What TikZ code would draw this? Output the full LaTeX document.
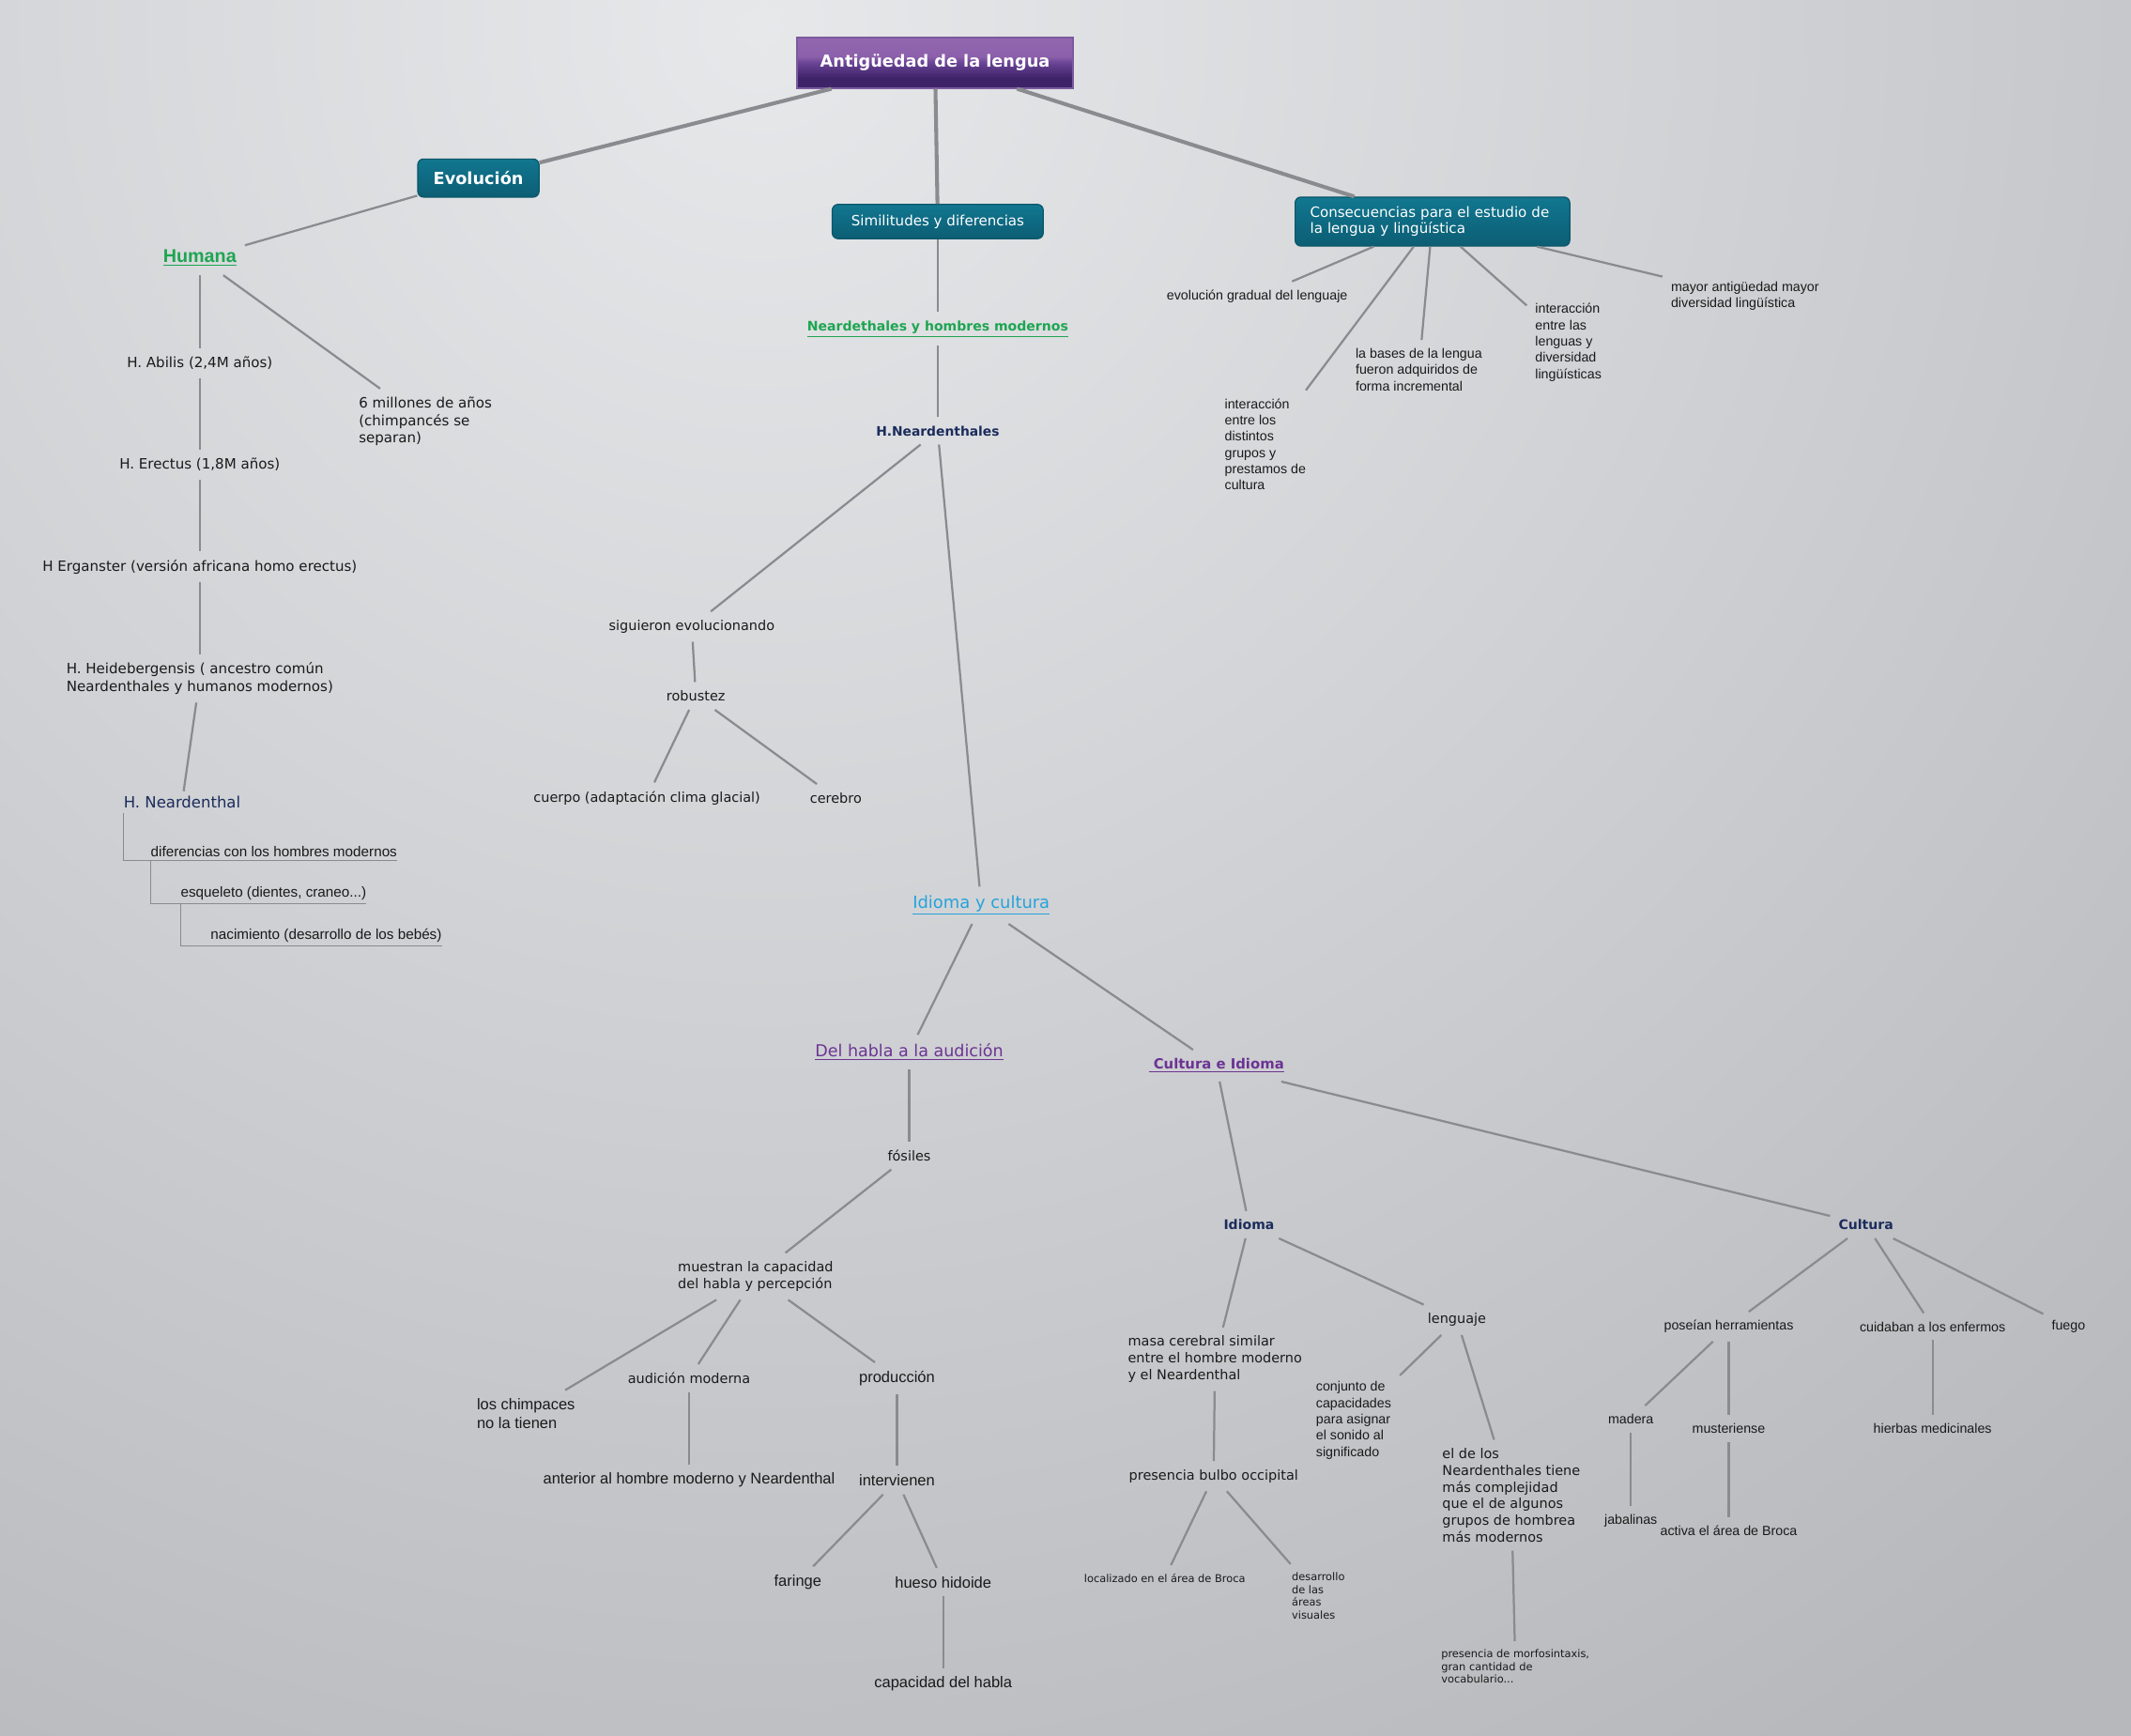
\documentclass[tikz,border=0pt]{standalone}
\usepackage{fontspec}
\setmainfont{Liberation Sans}
\newfontfamily\verdfont{DejaVu Sans}
\usetikzlibrary{positioning,calc}
\definecolor{BgLight}{HTML}{E7E8EA}
\definecolor{BgDark}{HTML}{B7B8BC}
\definecolor{LinkGray}{HTML}{8A8B8F}
\definecolor{TextInk}{HTML}{1A1A1A}
\definecolor{NavyText}{HTML}{1B2C5C}
\definecolor{GreenLink}{HTML}{1EA552}
\definecolor{BlueLink}{HTML}{25A3DA}
\definecolor{PurpleLink}{HTML}{6B3494}
\definecolor{RootEdge}{HTML}{7B5A9E}
\definecolor{RootRim}{HTML}{A080C0}
\definecolor{RootDark}{HTML}{3F2368}
\definecolor{RootMid}{HTML}{6A4496}
\definecolor{RootLight}{HTML}{8C60AA}
\definecolor{RootTop}{HTML}{9C72B8}
\definecolor{TealEdge}{HTML}{0B5669}
\definecolor{TealRim}{HTML}{1F8299}
\definecolor{TealDark}{HTML}{0B566A}
\definecolor{TealMid}{HTML}{0E6A82}
\definecolor{TealTop}{HTML}{16859E}
\pgfdeclareverticalshading{rootshade}{100bp}{color(0bp)=(RootRim); color(7bp)=(RootDark); color(35bp)=(RootDark); color(50bp)=(RootMid); color(56bp)=(RootLight); color(100bp)=(RootTop)}
\pgfdeclareverticalshading{tealshade}{100bp}{color(0bp)=(TealRim); color(8bp)=(TealDark); color(50bp)=(TealMid); color(100bp)=(TealTop)}

\begin{document}
\begin{tikzpicture}[
  x=0.025cm, y=-0.025cm,
  rootbox/.style={rectangle, shading=rootshade, draw=RootEdge, line width=1pt, text=white,
    font=\verdfont\bfseries\fontsize{8.7}{10}\selectfont, minimum width=5.08cm, minimum height=0.93cm},
  tealbox/.style={rectangle, rounded corners=3pt, shading=tealshade, draw=TealEdge, line width=0.6pt, text=white},
  body/.style={font=\verdfont\fontsize{7.1}{8.7}\selectfont, text=TextInk, align=left, inner sep=2.5pt, outer sep=2pt},
  bodyL/.style={body, font=\verdfont\fontsize{7.4}{9}\selectfont},
  arial/.style={body, font=\fontsize{7}{8.5}\selectfont},
  arialL/.style={body, font=\fontsize{8.1}{9.6}\selectfont},
  fine/.style={body, font=\verdfont\fontsize{5.6}{6.6}\selectfont},
  navy/.style={body, font=\verdfont\bfseries\fontsize{6.9}{8}\selectfont, text=NavyText},
  treeitem/.style={font=\fontsize{7.5}{9}\selectfont, text=TextInk, anchor=south west, inner xsep=0pt, inner ysep=2pt, outer sep=0pt},
  link/.style={draw=LinkGray, line width=1.1pt},
  trunk/.style={draw=LinkGray, line width=2pt},
  treeline/.style={draw=LinkGray, line width=0.6pt}
]
\useasboundingbox (0,0) rectangle (1568,1277);
\fill[BgDark] (0,0) rectangle (1568,1277);
\begin{scope}
\clip (0,0) rectangle (1568,1277);
\shade[inner color=BgLight, outer color=BgDark] (560,20) circle (37.5cm);
\end{scope}

\node[rootbox] (root) at (688,46) {Antigüedad de la lengua};
\node[tealbox, minimum width=2.23cm, minimum height=0.7cm, font=\verdfont\bfseries\fontsize{8.7}{10}\selectfont] (evol) at (352,131) {Evolución};
\node[tealbox, minimum width=3.88cm, minimum height=0.63cm, font=\verdfont\fontsize{7.4}{9}\selectfont] (simil) at (690,163) {Similitudes y diferencias};
\node[tealbox, minimum width=5.05cm, minimum height=0.9cm, text width=4.5cm, inner xsep=0.275cm, align=left, font=\verdfont\fontsize{7.4}{8.6}\selectfont] (conseq) at (1054,163) {Consecuencias para el estudio de\\la lengua y lingüística};

\node[body, font=\bfseries\fontsize{9.7}{11}\selectfont, text=GreenLink] (humana) at (147,190) {\underline{Humana}};
\node[bodyL] (abilis) at (147,267) {H. Abilis (2,4M años)};
\node[bodyL] (millones) at (313,310) {6 millones de años\\(chimpancés se\\separan)};
\node[bodyL] (erectus) at (147,342) {H. Erectus (1,8M años)};
\node[bodyL] (erganster) at (147,417) {H Erganster (versión africana homo erectus)};
\node[bodyL] (heide) at (147,499) {H. Heidebergensis ( ancestro común\\Neardenthales y humanos modernos)};
\node[body, font=\verdfont\fontsize{8.1}{9.5}\selectfont, text=NavyText, inner xsep=0pt, outer sep=0pt] (hnd) at (134,590) {H. Neardenthal};
\node[treeitem] (dif) at (111,633) {diferencias con los hombres modernos};
\node[treeitem] (esq) at (133,665) {esqueleto (dientes, craneo...)};
\node[treeitem] (nac) at (155,696) {nacimiento (desarrollo de los bebés)};

\node[body, font=\verdfont\bfseries\fontsize{6.9}{8}\selectfont, text=GreenLink] (neard) at (690,242) {\underline{Neardethales y hombres modernos}};
\node[navy, font=\verdfont\bfseries\fontsize{6.8}{8}\selectfont] (hneard) at (690,317) {H.Neardenthales};
\node[body] (sig) at (509,461) {siguieron evolucionando};
\node[body] (rob) at (512,512) {robustez};
\node[body] (cuerpo) at (476,587) {cuerpo (adaptación clima glacial)};
\node[body] (cerebro) at (615,587) {cerebro};

\node[body, font=\verdfont\fontsize{8.8}{10}\selectfont, text=BlueLink] (idicul) at (722,666) {\underline{Idioma y cultura}};
\node[body, font=\verdfont\fontsize{8.6}{10}\selectfont, text=PurpleLink] (habla) at (669,774) {\underline{Del habla a la audición}};
\node[body, font=\verdfont\bfseries\fontsize{7.3}{9}\selectfont, text=PurpleLink] (culid) at (895,784) {\underline{\ Cultura e Idioma}};
\node[body] (fosiles) at (669,850) {fósiles};
\node[body] (muestran) at (556,939) {muestran la capacidad\\del habla y percepción};
\node[arialL] (chimp) at (387,1040) {los chimpaces\\no la tienen};
\node[body] (audic) at (507,1014) {audición moderna};
\node[arialL] (produc) at (660,1014) {producción};
\node[arialL] (anterior) at (507,1089) {anterior al hombre moderno y Neardenthal};
\node[arialL] (interv) at (660,1089) {intervienen};
\node[arialL] (faringe) at (587,1164) {faringe};
\node[arialL] (hueso) at (694,1164) {hueso hidoide};
\node[arialL] (capac) at (694,1239) {capacidad del habla};

\node[navy] (idioma) at (919,901) {Idioma};
\node[navy] (cultura) at (1373,901) {Cultura};
\node[body] (masa) at (894,1000) {masa cerebral similar\\entre el hombre moderno\\y el Neardenthal};
\node[body] (lenguaje) at (1072,971) {lenguaje};
\node[arial] (conjunto) at (996,1045) {conjunto de\\capacidades\\para asignar\\el sonido al\\significado};
\node[body] (eldelos) at (1112,1100) {el de los\\Neardenthales tiene\\más complejidad\\que el de algunos\\grupos de hombrea\\más modernos};
\node[body] (bulbo) at (893,1086) {presencia bulbo occipital};
\node[fine] (broca) at (857,1161) {localizado en el área de Broca};
\node[fine] (visual) at (970,1174) {desarrollo\\de las\\áreas\\visuales};
\node[fine] (morfo) at (1115,1226) {presencia de morfosintaxis,\\gran cantidad de\\vocabulario...};

\node[arial] (herram) at (1272,976) {poseían herramientas};
\node[arial] (enfermos) at (1422,976) {cuidaban a los enfermos};
\node[arial] (fuego) at (1522,976) {fuego};
\node[arial] (madera) at (1200,1044) {madera};
\node[arial] (muster) at (1272,1051) {musteriense};
\node[arial] (hierbas) at (1422,1051) {hierbas medicinales};
\node[arial] (jabal) at (1200,1119) {jabalinas};
\node[arial] (activa) at (1272,1126) {activa el área de Broca};

\node[arial] (gradual) at (925,218) {evolución gradual del lenguaje};
\node[arial] (grupos) at (931,327) {interacción\\entre los\\distintos\\grupos y\\prestamos de\\cultura};
\node[arial] (bases) at (1044,272) {la bases de la lengua\\fueron adquiridos de\\forma incremental};
\node[arial] (lenguas) at (1154,252) {interacción\\entre las\\lenguas y\\diversidad\\lingüísticas};
\node[arial] (mayor) at (1284,218) {mayor antigüedad mayor\\diversidad lingüística};

\draw[trunk] (root) -- (evol);
\draw[trunk] (root) -- (simil);
\draw[trunk] (root) -- (conseq);

\draw[link] (evol) -- (humana);
\draw[link] (humana) -- (abilis);
\draw[link] (humana) -- (millones);
\draw[link] (abilis) -- (erectus);
\draw[link] (erectus) -- (erganster);
\draw[link] (erganster) -- (heide);
\draw[link] (heide) -- (hnd);
\draw[treeline] (hnd.south west) |- (dif.south east);
\draw[treeline] (dif.south west) |- (esq.south east);
\draw[treeline] (esq.south west) |- (nac.south east);

\draw[link] (simil) -- (neard);
\draw[link] (neard) -- (hneard);
\draw[link] (hneard) -- (sig);
\draw[link] (hneard) -- (idicul);
\draw[link] (sig) -- (rob);
\draw[link] (rob) -- (cuerpo);
\draw[link] (rob) -- (cerebro);

\draw[link] (idicul) -- (habla);
\draw[link] (idicul) -- (culid);
\draw[link] (habla) -- (fosiles);
\draw[link] (fosiles) -- (muestran);
\draw[link] (muestran) -- (chimp);
\draw[link] (muestran) -- (audic);
\draw[link] (muestran) -- (produc);
\draw[link] (audic) -- (anterior);
\draw[link] (produc) -- (interv);
\draw[link] (interv) -- (faringe);
\draw[link] (interv) -- (hueso);
\draw[link] (hueso) -- (capac);

\draw[link] (culid) -- (idioma);
\draw[link] (culid) -- (cultura);
\draw[link] (idioma) -- (masa);
\draw[link] (idioma) -- (lenguaje);
\draw[link] (masa) -- (bulbo);
\draw[link] (bulbo) -- (broca);
\draw[link] (bulbo) -- (visual);
\draw[link] (lenguaje) -- (conjunto);
\draw[link] (lenguaje) -- (eldelos);
\draw[link] (eldelos) -- (morfo);

\draw[link] (cultura) -- (herram);
\draw[link] (cultura) -- (enfermos);
\draw[link] (cultura) -- (fuego);
\draw[link] (herram) -- (madera);
\draw[link] (herram) -- (muster);
\draw[link] (enfermos) -- (hierbas);
\draw[link] (madera) -- (jabal);
\draw[link] (muster) -- (activa);

\draw[link] (conseq) -- (gradual);
\draw[link] (conseq) -- (grupos);
\draw[link] (conseq) -- (bases);
\draw[link] (conseq) -- (lenguas);
\draw[link] (conseq) -- (mayor);
\end{tikzpicture}
\end{document}
